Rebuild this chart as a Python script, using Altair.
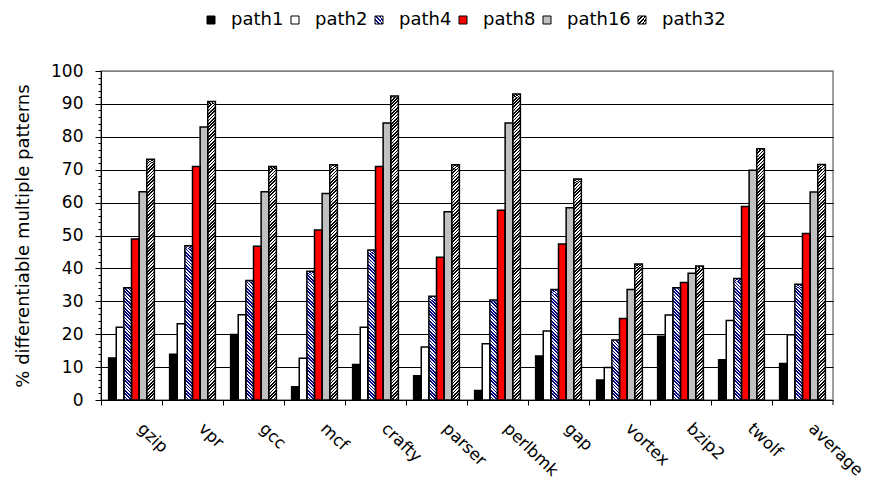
import altair as alt
import pandas as pd

benchmarks = ["gzip", "vpr", "gcc", "mcf", "crafty", "parser", "perlbmk",
              "gap", "vortex", "bzip2", "twolf", "average"]
series = ["path1", "path2", "path4", "path8", "path16", "path32"]

path1 = [12.8, 13.9, 19.9, 4.0, 10.8, 7.4, 2.9, 13.4, 6.1, 19.4, 12.2, 11.1]
path2 = [22.1, 23.2, 25.9, 12.7, 22.1, 16.1, 17.1, 21.0, 9.9, 25.8, 24.2, 19.8]
path4 = [34.1, 46.9, 36.3, 39.1, 45.6, 31.5, 30.4, 33.6, 18.2, 34.1, 36.9, 35.2]
path8 = [48.9, 71.0, 46.7, 51.7, 71.0, 43.4, 57.7, 47.4, 24.8, 35.7, 58.8, 50.6]
path16 = [63.3, 83.0, 63.3, 62.8, 84.2, 57.2, 84.2, 58.4, 33.6, 38.5, 69.8, 63.2]
path32 = [73.2, 90.7, 71.0, 71.5, 92.4, 71.5, 93.0, 67.2, 41.3, 40.7, 76.4, 71.6]

values = {"path1": path1, "path2": path2, "path4": path4,
          "path8": path8, "path16": path16, "path32": path32}
rows = []
for s in series:
    for b, v in zip(benchmarks, values[s]):
        rows.append({"bench": b, "series": s, "value": v})
df = pd.DataFrame(rows)

# layout
PLOT_W, PLOT_H = 732, 329
P_IN, P_OUT = 0.25, 0.125
STEP = PLOT_W / 12.0
BAR_W = STEP * (1 - P_IN) / 6.0
HALF_GAP = STEP * P_IN / 2.0
SEG = 2  # segment height in data units for hatched bars
FONT = "DejaVu Sans"


def stripe_gradient(base, stripe, direction):
    w = BAR_W
    h = SEG * PLOT_H / 100.0
    s = (w + h) / (w * w + h * h)
    if direction == "/":
        x1, y1, x2, y2 = 0, 0, w * s, h * s
    else:
        x1, y1, x2, y2 = 0, 1, w * s, 1 - h * s
    period = (h / 2.0) / (w + h)
    stops = []
    k = 0
    while k * period < 1:
        a = k * period
        b = min(a + period / 2.0, 1)
        c = min(a + period, 1)
        stops += [(a, base), (b, base), (b, stripe), (c, stripe)]
        k += 1
    st = ",".join("{offset:%.4f,color:'%s'}" % (o, col) for o, col in stops)
    return {"expr": "{gradient:'linear',x1:%.4f,y1:%.4f,x2:%.4f,y2:%.4f,stops:[%s]}"
            % (x1, y1, x2, y2, st)}


colors = ["#000000", "#FFFFFF",
          stripe_gradient("#000080", "#FFFFFF", "\\"),
          "#FF0000", "#C0C0C0",
          stripe_gradient("#000000", "#FFFFFF", "/")]

xaxis = alt.Axis(
    bandPosition=0, tickOffset=-HALF_GAP,
    labelOffset=HALF_GAP + BAR_W * 3 - 9,
    labelAngle=44, labelAlign="left", labelBaseline="top",
    labelPadding=15, tickSize=5, tickColor="black", domainColor="black",
    labelFont=FONT, labelFontSize=16.5, labelColor="black",
    labelOverlap=False, grid=False, title=None,
)
yaxis = alt.Axis(
    values=list(range(0, 101, 2)),
    labelExpr="datum.value % 10 == 0 ? datum.label : ''",
    grid=True,
    gridColor=alt.condition("datum.value == 100", alt.value("#808080"), alt.value("#000000")),
    gridOpacity=alt.condition("datum.value % 10 == 0 && datum.value > 0", alt.value(1), alt.value(0)),
    tickSize=alt.condition("datum.value % 10 == 0", alt.value(6), alt.value(3)),
    tickColor="black", domainColor="black",
    labelFont=FONT, labelFontSize=17, labelColor="black", labelPadding=12,
    titleFont=FONT, titleFontSize=18, titleFontWeight="normal", titleColor="black",
    titlePadding=18,
)

x_enc = alt.X("bench:N", sort=benchmarks,
              scale=alt.Scale(domain=benchmarks, paddingInner=P_IN, paddingOuter=P_OUT),
              axis=xaxis, title=None)
xo_enc = alt.XOffset("series:N", sort=series,
                     scale=alt.Scale(domain=series, paddingInner=0, paddingOuter=0))
yscale = alt.Scale(domain=[0, 100], nice=False)
YTITLE = "% differentiable multiple patterns"

legend = alt.Legend(
    title=None, orient="none", legendX=101, legendY=-60,
    direction="horizontal", columns=6,
    symbolType="square", symbolSize=64,
    symbolStrokeColor="black", symbolStrokeWidth=1,
    labelFont=FONT, labelFontSize=18, labelColor="black",
    labelOffset=11, columnPadding=2, padding=0,
)
color_enc = alt.Color("series:N", sort=series,
                      scale=alt.Scale(domain=series, range=colors), legend=legend)

base = alt.Chart(df)

solid = base.transform_filter(
    "datum.series != 'path4' && datum.series != 'path32'"
).mark_bar().encode(
    x=x_enc, xOffset=xo_enc,
    y=alt.Y("value:Q", scale=yscale, axis=yaxis, title=YTITLE),
    color=color_enc,
)

hatched_base = base.transform_filter(
    "datum.series == 'path4' || datum.series == 'path32'"
).mark_bar().encode(
    x=x_enc, xOffset=xo_enc,
    y=alt.Y("value:Q", scale=yscale, axis=yaxis, title=YTITLE),
    fill=alt.condition("datum.series == 'path4'", alt.value("#000080"), alt.value("#000000")),
)

hatched = base.transform_filter(
    "datum.series == 'path4' || datum.series == 'path32'"
).transform_calculate(
    seg="sequence(0, datum.value, %d)" % SEG
).transform_flatten(["seg"]).transform_calculate(
    seg2="min(datum.seg + %d, datum.value)" % SEG
).mark_bar(strokeWidth=0).encode(
    x=x_enc, xOffset=xo_enc,
    y=alt.Y("seg:Q", scale=yscale, axis=yaxis, title=YTITLE),
    y2="seg2:Q",
    color=color_enc,
)

outline = base.mark_bar(fill="white", fillOpacity=0, stroke="black", strokeWidth=1.5).encode(
    x=x_enc, xOffset=xo_enc,
    y=alt.Y("value:Q", scale=yscale, axis=yaxis, title=YTITLE),
)

end_tick = alt.Chart(pd.DataFrame({"a": [0]})).mark_rule(color="black").encode(
    x=alt.value(PLOT_W), y=alt.value(PLOT_H), y2=alt.value(PLOT_H + 5)
)

chart = alt.layer(solid, hatched_base, hatched, outline, end_tick).properties(
    width=PLOT_W, height=PLOT_H,
    autosize=alt.AutoSizeParams(type="none"),
    padding={"left": 93, "top": 63, "right": 34, "bottom": 80},
).configure_view(stroke="#808080", strokeWidth=1.5)

chart.save("out.html", embed_options={"renderer": "svg", "actions": False})
